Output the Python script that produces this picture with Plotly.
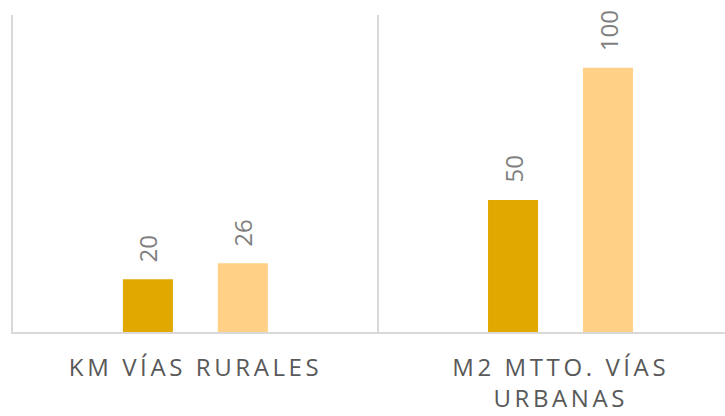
import plotly.graph_objects as go

categories = ["KM VÍAS RURALES", "M2 MTTO. VÍAS<br>URBANAS"]
serie_1 = [20, 50]
serie_2 = [26, 100]

colors = ["#E1A900", "#FFD086"]
x_pos = [0, 1]
bar_w = 0.137
offsets = [-0.199, 0.061]

def spaced(t):
    return "<br>".join('<span style="letter-spacing:3.6px">' + p + "</span>" for p in t.split("<br>"))

fig = go.Figure()
for vals, col, off in zip([serie_1, serie_2], colors, offsets):
    fig.add_trace(go.Bar(
        x=x_pos, y=vals, width=bar_w, offset=off,
        marker=dict(color=col, line=dict(width=0)),
        showlegend=False, hoverinfo="skip",
    ))
    for xi, v in zip(x_pos, vals):
        fig.add_annotation(
            x=xi + off + bar_w / 2, y=v, text=str(v), textangle=-90,
            showarrow=False, yanchor="bottom", xanchor="center", yshift=15,
            font=dict(family="Open Sans", size=24, color="#7F7F7F"),
        )

fig.update_layout(
    width=725, height=416,
    margin=dict(l=13, r=0, t=15, b=84),
    plot_bgcolor="white", paper_bgcolor="white",
    barmode="overlay",
)
fig.update_xaxes(
    range=[-0.5, 1.45],
    tickvals=x_pos, ticktext=[spaced(c) for c in categories],
    tickfont=dict(family="Open Sans", size=24, color="#595959"),
    showgrid=False, zeroline=False, automargin=False,
    showline=True, linecolor="#D9D9D9", linewidth=2,
    ticks="", ticklabelstandoff=13,
    minor=dict(tickvals=[-0.5, 0.5], showgrid=True, gridcolor="#D9D9D9", gridwidth=1.5, ticks=""),
)
fig.update_yaxes(range=[0, 120], showgrid=False, zeroline=False, showticklabels=False, automargin=False,
                 showline=True, linecolor="#D9D9D9", linewidth=2)

fig.write_html(
    "out.html",
    config={"displayModeBar": False, "staticPlot": True},
    post_script="document.body.style.margin='0';document.body.style.overflow='hidden';",
)
